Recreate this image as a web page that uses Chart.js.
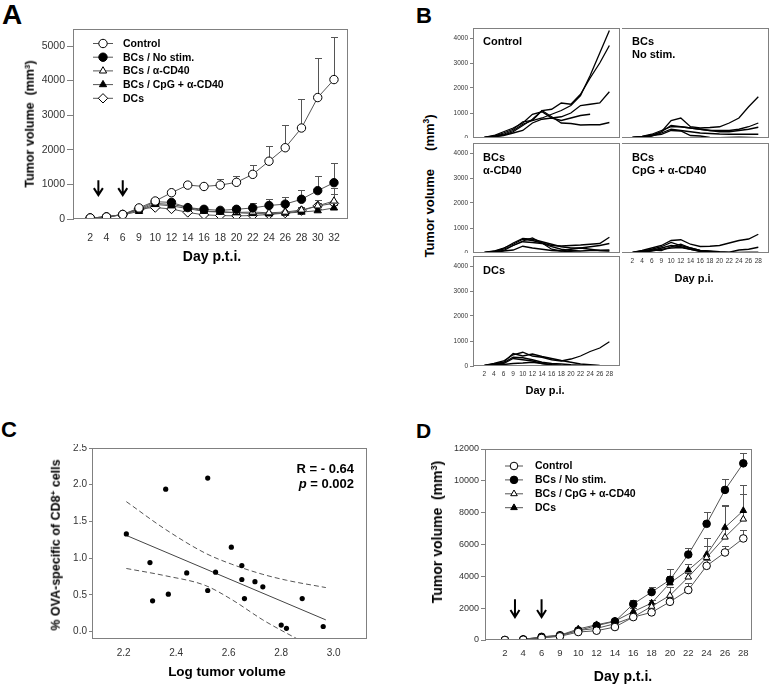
<!DOCTYPE html>
<html>
<head>
<meta charset="utf-8">
<script src="https://cdn.jsdelivr.net/npm/chart.js@4.4.0/dist/chart.umd.min.js"></script>
<style>
  body { margin: 0; background: #fff; width: 772px; height: 687px; position: relative; overflow: hidden;
         font-family: "Liberation Sans", Arial, sans-serif; }
  canvas { position: absolute; }
  .t { position: absolute; font-weight: bold; color: #000; white-space: nowrap; line-height: 1; }
  .c { transform: translateX(-50%); }
  .r { transform: translate(-50%, -50%) rotate(-90deg); }
  .lab { position: absolute; font-weight: bold; color: #000; white-space: nowrap; font-size: 11px; line-height: 13px; }
  .sup { font-size: .65em; vertical-align: .55em; line-height: 0; }
</style>
</head>
<body>
<canvas id="chartA"></canvas>
<canvas id="bCtrl"></canvas>
<canvas id="bNoStim"></canvas>
<canvas id="bCD40"></canvas>
<canvas id="bCpG"></canvas>
<canvas id="bDCs"></canvas>
<canvas id="chartC"></canvas>
<canvas id="chartD"></canvas>

<div class="t" style="left:2px;top:1px;font-size:28px">A</div>
<div class="t" style="left:416px;top:5px;font-size:22px">B</div>
<div class="t" style="left:1px;top:419px;font-size:22px">C</div>
<div class="t" style="left:416px;top:420px;font-size:21px">D</div>

<div class="t r" style="left:30px;top:124px;font-size:12.5px">Tumor volume&nbsp; (mm<span class="sup">3</span>)</div>
<div class="t c" style="left:212px;top:249px;font-size:14px">Day p.t.i.</div>

<div class="t r" style="left:429px;top:186px;font-size:13px">Tumor volume&nbsp;&nbsp;&nbsp;&nbsp; (mm<span class="sup">3</span>)</div>
<div class="lab" style="left:483px;top:35px">Control</div>
<div class="lab" style="left:632px;top:35px">BCs<br>No stim.</div>
<div class="lab" style="left:483px;top:151px">BCs<br>α-CD40</div>
<div class="lab" style="left:632px;top:151px">BCs<br>CpG + α-CD40</div>
<div class="lab" style="left:483px;top:264px">DCs</div>
<div class="t c" style="left:694px;top:273px;font-size:11px">Day p.i.</div>
<div class="t c" style="left:545px;top:385px;font-size:11px">Day p.i.</div>

<div class="t r" style="left:56px;top:545px;font-size:12.5px">% OVA-specific of CD8<span class="sup">+</span> cells</div>
<div class="t c" style="left:227px;top:665px;font-size:13.5px">Log tumor volume</div>
<div class="t" style="right:418px;top:462px;font-size:13px">R = - 0.64</div>
<div class="t" style="right:418px;top:477px;font-size:13px"><i>p</i> = 0.002</div>

<div class="t r" style="left:437px;top:532px;font-size:14px">Tumor volume&nbsp; (mm<span class="sup">3</span>)</div>
<div class="t c" style="left:623px;top:669px;font-size:14px">Day p.t.i.</div>

<script>
// ---- panel A: mean tumour volume, 5 groups ----
const daysA = ['2', '4', '6', '9', '10', '12', '14', '16', '18', '20', '22', '24', '26', '28', '30', '32'];
const ticksYA = [0, 1000, 2000, 3000, 4000, 5000];
const controlA = [30, 60, 130, 320, 520, 760, 980, 940, 980, 1060, 1290, 1670, 2060, 2630, 3510, 4030];
const controlAErr = [null, null, null, 360, 570, 820, 1030, 1020, 1150, 1250, 1560, 2120, 2720, 3480, 4660, 5260];
const noStimA = [30, 60, 130, 280, 500, 480, 330, 280, 250, 280, 320, 390, 430, 570, 820, 1050];
const noStimAErr = [null, null, null, null, 560, 540, 390, 330, 300, 340, 450, 570, 650, 850, 1250, 1630];
const cd40A = [30, 60, 130, 260, 450, 420, 340, 230, 210, 190, 200, 180, 200, 260, 380, 520];
const cd40AErr = [null, null, null, null, null, null, null, null, null, null, null, null, null, 350, 550, 900];
const cpgA = [30, 60, 120, 220, 420, 380, 300, 220, 200, 180, 160, 150, 170, 200, 240, 320];
const cpgAErr = [null, null, null, null, null, null, null, null, null, null, null, null, null, null, 300, 400];
const dcsA = [30, 60, 130, 300, 330, 290, 190, 120, 100, 90, 100, 130, 170, 240, 380, 450];
const dcsAErr = [null, null, null, null, null, null, null, null, null, null, null, null, null, 330, 470, 720];
const arrowsA = [0.5, 2];

// ---- panel B: individual mice ----
const daysB = ['2', '4', '6', '9', '10', '12', '14', '16', '18', '20', '22', '24', '26', '28'];
const ticksYB = [0, 1000, 2000, 3000, 4000];
const controlB = [
  [20, 60, 150, 300, 550, 700, 800, 950, 1100, 1300, 1700, 2500, 3400, 4300],
  [10, 50, 120, 250, 500, 750, 1100, 1150, 1400, 1350, 1750, 2400, 3000, 3700],
  [20, 100, 250, 400, 600, 950, 1050, 800, 850, 1000, 1300, 1350, 1400, 1850],
  [20, 80, 200, 350, 650, 700, 1100, 850, 600, 580, 520, 530, 530, 620],
  [10, 50, 100, 200, 300, 600, 750, 800, 700, 800, 900, 950, null, null]
];
const noStimB = [
  [20, 50, 120, 250, 700, 800, 450, 400, 420, 450, 600, 800, 1250, 1650],
  [10, 40, 100, 250, 500, 450, 400, 350, 300, 300, 300, 350, 450, 600],
  [20, 60, 150, 300, 450, 450, 400, 350, 300, 250, 250, 300, 350, 430],
  [10, 30, 80, 200, 350, 300, 250, 200, 180, 160, 150, 150, 150, 150],
  [20, 50, 100, 150, 300, 280, 100, 80, 20, 10, 20, 30, 20, 10]
];
const cd40B = [
  [20, 80, 200, 350, 550, 500, 400, 300, 280, 300, 320, 350, 380, 630],
  [20, 60, 180, 400, 580, 550, 450, 350, 250, 200, 200, 250, 300, 380],
  [10, 50, 150, 300, 450, 420, 380, 250, 150, 100, 80, 100, 110, 120],
  [10, 40, 100, 300, 480, 600, 400, 150, 80, 150, 200, 150, 100, 80],
  [10, 30, 80, 120, 270, 200, 150, 100, 80, 50, 20, 10, 20, 20]
];
const cpgB = [
  [20, 100, 200, 300, 500, 530, 350, 260, 270, 300, 400, 500, 560, 750],
  [10, 60, 150, 250, 420, 300, 200, 100, 80, 50, 30, 120, 150, 230],
  [10, 50, 100, 200, 300, 250, 150, 80, 60, 30, 20, 20, 20, 20],
  [10, 30, 80, 150, 200, 220, 150, 60, 30, 20, 10, 10, 10, 10],
  [20, 80, 120, 100, 250, 350, 200, 100, 50, 20, 10, 10, 20, 20]
];
const dcsB = [
  [20, 100, 200, 450, 550, 400, 350, 250, 200, 280, 400, 580, 720, 970],
  [20, 80, 150, 500, 400, 480, 380, 300, 220, 150, 80, 50, 20, 0],
  [10, 60, 130, 350, 330, 250, 150, 100, 80, 50, 30, 20, 10, 0],
  [10, 50, 100, 300, 250, 200, 100, 50, 20, 10, 0, 0, 0, 0],
  [10, 30, 60, 100, 120, 150, 100, 50, 20, 10, 0, 0, 0, 0]
];

// ---- panel C: correlation ----
const ticksXC = [2.2, 2.4, 2.6, 2.8, 3.0];
const ticksYC = [0.0, 0.5, 1.0, 1.5, 2.0, 2.5];
const logVolC = [2.21, 2.30, 2.31, 2.36, 2.37, 2.44, 2.52, 2.52, 2.55, 2.61, 2.65, 2.65, 2.66, 2.70, 2.73, 2.80, 2.82, 2.88, 2.96];
const ovaC = [1.33, 0.94, 0.42, 1.94, 0.51, 0.80, 0.56, 2.09, 0.81, 1.15, 0.90, 0.71, 0.45, 0.68, 0.61, 0.09, 0.045, 0.45, 0.07];
const fitX = [2.21, 2.97];
const fitY = [1.31, 0.16];
const bandX = [2.21, 2.36, 2.51, 2.61, 2.73, 2.82, 2.97];
const bandUpper = [1.77, 1.39, 1.07, 0.92, 0.78, 0.70, 0.60];
const bandLower = [0.86, 0.76, 0.63, 0.44, 0.16, -0.02, -0.30];

// ---- panel D: mean tumour volume, 4 groups ----
const daysD = ['2', '4', '6', '9', '10', '12', '14', '16', '18', '20', '22', '24', '26', '28'];
const ticksYD = [0, 2000, 4000, 6000, 8000, 10000, 12000];
const controlD = [0, 20, 130, 230, 500, 585, 815, 1440, 1735, 2400, 3140, 4660, 5500, 6380];
const controlDErr = [null, null, null, null, null, null, null, null, 1900, 2650, 3600, 5000, 5900, 6900];
const noStimD = [0, 40, 200, 300, 600, 900, 1170, 2260, 3010, 3780, 5370, 7300, 9430, 11100];
const noStimDErr = [null, null, null, null, null, 1000, 1250, 2500, 3300, 4470, 5770, 8030, 10140, 11770];
const cpgD = [0, 30, 150, 260, 600, 730, 1020, 1440, 2110, 2800, 3950, 5180, 6460, 7590];
const cpgDErr = [null, null, null, null, null, null, null, 1600, 2300, 3300, 4200, 5900, 8400, 9200];
const dcsD = [0, 40, 180, 300, 690, 960, 1190, 1780, 2320, 3580, 4390, 5370, 7070, 8130];
const dcsDErr = [null, null, null, null, null, null, null, 2000, 2500, 4000, 4800, 6400, 8490, 9720];
const arrowsD = [0.55, 2];

// ---------------------------------------------------------------------------
const FONT = '"Liberation Sans", Arial, sans-serif';
Chart.defaults.font.family = FONT;
Chart.defaults.color = '#222';
Chart.defaults.animation = false;
Chart.defaults.events = [];
Chart.defaults.plugins.legend.display = false;
Chart.defaults.plugins.tooltip.enabled = false;

const AXIS = '#808080';
const LINE = '#555';

// box round the plot area
const frame = {
  id: 'frame',
  afterDraw(chart) {
    const a = chart.chartArea, ctx = chart.ctx;
    ctx.save();
    ctx.strokeStyle = AXIS;
    ctx.lineWidth = 1;
    ctx.strokeRect(Math.round(a.left) - 0.5, Math.round(a.top) + 0.5,
      Math.round(a.right - a.left) + 1, Math.round(a.bottom - a.top) - 1);
    ctx.restore();
  }
};

// upper error bars from dataset.errTop
const errorBars = {
  id: 'errorBars',
  beforeDatasetsDraw(chart) {
    const ctx = chart.ctx, xs = chart.scales.x, ys = chart.scales.y;
    ctx.save();
    ctx.strokeStyle = LINE;
    ctx.lineWidth = 1;
    chart.data.datasets.forEach((ds) => {
      if (!ds.errTop) return;
      ds.errTop.forEach((top, i) => {
        if (top == null) return;
        const x = Math.round(xs.getPixelForValue(ds.data[i].x)) + 0.5;
        const y0 = ys.getPixelForValue(ds.data[i].y);
        const y1 = Math.round(ys.getPixelForValue(top)) + 0.5;
        ctx.beginPath();
        ctx.moveTo(x, y0); ctx.lineTo(x, y1);
        ctx.moveTo(x - 3.5, y1); ctx.lineTo(x + 3.5, y1);
        ctx.stroke();
      });
    });
    ctx.restore();
  }
};

// treatment arrows
const arrows = {
  id: 'arrows',
  afterDraw(chart, args, opts) {
    if (!opts.at) return;
    const ctx = chart.ctx, xs = chart.scales.x, ys = chart.scales.y;
    ctx.save();
    ctx.strokeStyle = '#000';
    ctx.lineWidth = 2;
    opts.at.forEach((v) => {
      const x = xs.getPixelForValue(v);
      const y0 = ys.getPixelForValue(opts.from), y1 = ys.getPixelForValue(opts.to);
      ctx.beginPath();
      ctx.moveTo(x, y0); ctx.lineTo(x, y1);
      ctx.moveTo(x - 4.5, y1 - 7); ctx.lineTo(x, y1); ctx.lineTo(x + 4.5, y1 - 7);
      ctx.stroke();
    });
    ctx.restore();
  }
};

// legend with line + marker, placed in page coordinates
const lineLegend = {
  id: 'lineLegend',
  afterDraw(chart, args, opts) {
    if (!opts.x) return;
    const ctx = chart.ctx;
    const ox = parseFloat(chart.canvas.style.left), oy = parseFloat(chart.canvas.style.top);
    ctx.save();
    chart.data.datasets.forEach((ds, i) => {
      const y = opts.y + i * opts.dy - oy, x = opts.x - ox;
      ctx.strokeStyle = ds.borderColor;
      ctx.lineWidth = 1;
      ctx.beginPath(); ctx.moveTo(x, y); ctx.lineTo(x + opts.len, y); ctx.stroke();
      ctx.fillStyle = ds.pointBackgroundColor;
      ctx.strokeStyle = ds.pointBorderColor;
      Chart.helpers.drawPoint(ctx, { pointStyle: ds.pointStyle, radius: ds.pointRadius, borderWidth: 1, rotation: 0 },
        x + opts.len / 2, y);
      ctx.fillStyle = '#000';
      ctx.font = 'bold ' + opts.size + 'px ' + FONT;
      ctx.textBaseline = 'middle';
      ctx.fillText(ds.label, x + opts.len + opts.gap, y + 0.5);
    });
    ctx.restore();
  }
};

Chart.register(frame, errorBars, arrows, lineLegend);

// put a chart so its plot area lands on area = [left, top, right, bottom]
function place(id, area, yW, xH, config) {
  const pad = 4;
  const c = document.getElementById(id);
  c.width = area[2] - area[0] + yW + pad;
  c.height = area[3] - area[1] + xH + pad;
  c.style.left = (area[0] - yW) + 'px';
  c.style.top = (area[1] - pad) + 'px';
  config.options.responsive = false;
  config.options.layout = { padding: { top: pad, right: pad, left: 0, bottom: 0 } };
  const fix = (s) => {
    if (s.isHorizontal()) s.height = xH; else s.width = yW;
    s.paddingTop = s.paddingBottom = s.paddingLeft = s.paddingRight = 0;
  };
  Object.values(config.options.scales).forEach((s) => { s.afterFit = fix; });
  return new Chart(c, config);
}

const pts = (arr) => arr.map((v, i) => ({ x: i, y: v }));

function group(label, data, err, style, filled, r) {
  return {
    label, data: pts(data), errTop: err,
    borderColor: LINE, borderWidth: 1,
    pointStyle: style, pointRadius: style === 'rectRot' ? r + 0.5 : r, pointBorderWidth: 1,
    pointBorderColor: '#000', pointBackgroundColor: filled ? '#000' : '#fff'
  };
}

function catAxis(labels, min, max, size, padding, show = true) {
  return {
    type: 'linear', min, max,
    afterBuildTicks: (s) => { s.ticks = labels.map((d, i) => ({ value: i })); },
    ticks: { display: show, callback: (v) => labels[v], font: { size }, color: '#333', padding, maxRotation: 0, autoSkip: false },
    grid: { display: false, drawTicks: false },
    border: { display: false }
  };
}

function valAxis(ticks, min, max, size, tickLength, showLabels, digits = 0) {
  return {
    type: 'linear', min, max,
    afterBuildTicks: (s) => { s.ticks = ticks.map((v) => ({ value: v })); },
    ticks: { display: showLabels, font: { size }, color: '#333', padding: 2, callback: (v) => v.toFixed(digits) },
    grid: { drawOnChartArea: false, drawTicks: tickLength > 0, tickLength, color: AXIS },
    border: { display: false }
  };
}

// ---- A ----
place('chartA', [74, 27, 349, 219], 40, 30, {
  type: 'line',
  data: {
    datasets: [
      group('Control', controlA, controlAErr, 'circle', false, 4.2),
      group('BCs / No stim.', noStimA, noStimAErr, 'circle', true, 4.2),
      group('BCs / α-CD40', cd40A, cd40AErr, 'triangle', false, 4.2),
      group('BCs / CpG + α-CD40', cpgA, cpgAErr, 'triangle', true, 4.2),
      group('DCs', dcsA, dcsAErr, 'rectRot', false, 4.2)
    ]
  },
  options: {
    scales: {
      x: catAxis(daysA, -1, 15.82, 10.5, 13),
      y: valAxis(ticksYA, 0, 5500, 10.5, 7, true)
    },
    plugins: {
      arrows: { at: arrowsA, from: 1120, to: 690 },
      lineLegend: { x: 93, y: 43.5, dy: 13.7, len: 20, gap: 10, size: 10.5 }
    }
  }
});

// ---- B ----
function mice(rows) {
  return rows.map((r) => ({
    data: pts(r), borderColor: '#000', borderWidth: 1.3, pointRadius: 0, spanGaps: false
  }));
}
function small(id, area, rows, showY, showX) {
  place(id, area, showY ? 30 : 0, showX ? 14 : 0, {
    type: 'line',
    data: { datasets: mice(rows) },
    options: {
      scales: {
        x: catAxis(daysB, -1.07, 14.0, 6.5, 4, showX),
        y: valAxis(ticksYB, 0, 4400, 6.5, showY ? 4 : 0, showY)
      }
    }
  });
}
small('bCtrl', [474, 28, 619, 138], controlB, true, false);
small('bNoStim', [622, 28, 768, 138], noStimB, false, false);
small('bCD40', [474, 143, 619, 253], cd40B, true, false);
small('bCpG', [622, 143, 768, 253], cpgB, false, true);
small('bDCs', [474, 256, 619, 366], dcsB, true, true);

// ---- C ----
const xy = (xs, ys) => xs.map((x, i) => ({ x, y: ys[i] }));
place('chartC', [93, 448, 366, 639], 40, 30, {
  type: 'scatter',
  data: {
    datasets: [
      { data: xy(logVolC, ovaC), pointRadius: 2.6, pointBackgroundColor: '#000', pointBorderWidth: 0 },
      { type: 'line', data: xy(fitX, fitY), borderColor: '#444', borderWidth: 1, pointRadius: 0 },
      { type: 'line', data: xy(bandX, bandUpper), borderColor: '#555', borderWidth: 1, borderDash: [5, 3],
        pointRadius: 0, cubicInterpolationMode: 'monotone' },
      { type: 'line', data: xy(bandX, bandLower), borderColor: '#555', borderWidth: 1, borderDash: [5, 3],
        pointRadius: 0, cubicInterpolationMode: 'monotone' }
    ]
  },
  options: {
    scales: {
      x: {
        type: 'linear', min: 2.083, max: 3.123,
        afterBuildTicks: (s) => { s.ticks = ticksXC.map((v) => ({ value: v })); },
        ticks: { callback: (v) => v.toFixed(1), font: { size: 10 }, color: '#333', padding: 8 },
        grid: { display: false, drawTicks: false },
        border: { display: false }
      },
      y: valAxis(ticksYC, -0.1, 2.5, 10, 4, true, 1)
    }
  }
});

// ---- D ----
place('chartD', [486, 448, 752, 640], 50, 30, {
  type: 'line',
  data: {
    datasets: [
      group('Control', controlD, controlDErr, 'circle', false, 3.8),
      group('BCs / No stim.', noStimD, noStimDErr, 'circle', true, 3.8),
      group('BCs / CpG + α-CD40', cpgD, cpgDErr, 'triangle', false, 3.8),
      group('DCs', dcsD, dcsDErr, 'triangle', true, 3.8)
    ]
  },
  options: {
    scales: {
      x: catAxis(daysD, -1.03, 13.42, 9.5, 8),
      y: valAxis(ticksYD, 0, 12000, 9, 5, true)
    },
    plugins: {
      arrows: { at: arrowsD, from: 2560, to: 1440 },
      lineLegend: { x: 505, y: 466, dy: 13.9, len: 18, gap: 12, size: 10.5 }
    }
  }
});
</script>
</body>
</html>
